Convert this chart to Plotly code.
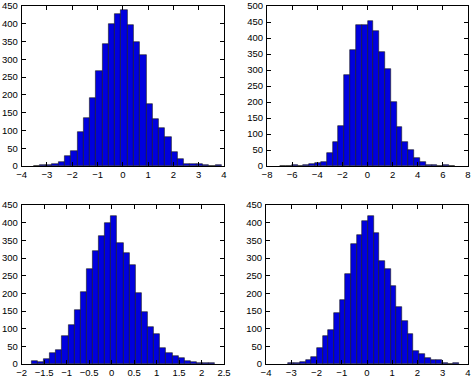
"""Four MATLAB-style histograms (30 bins each) drawn with Plotly."""
import numpy as np
import plotly.graph_objects as go
from plotly.subplots import make_subplots

# Histogram bin ranges (data min / max) and counts
range_1 = (-3.54, 3.90)
counts_1 = [1, 2, 2, 5, 12, 27, 43, 97, 134, 190, 266, 343, 399, 428, 438,
            396, 350, 311, 175, 133, 108, 81, 39, 20, 7, 6, 5, 2, 0, 2]

range_2 = (-6.95, 6.95)
counts_2 = [0, 0, 2, 1, 3, 6, 9, 13, 42, 74, 125, 284, 362, 440, 442,
            452, 423, 357, 302, 199, 121, 76, 50, 24, 13, 3, 2, 1, 2, 0]

range_3 = (-1.78, 2.30)
counts_3 = [8, 5, 13, 31, 40, 79, 110, 152, 203, 268, 320, 362, 398, 418, 342,
            315, 280, 200, 148, 106, 84, 45, 32, 23, 16, 8, 5, 3, 2, 2]

range_4 = (-3.11, 3.64)
counts_4 = [3, 2, 5, 10, 20, 44, 80, 96, 144, 181, 254, 341, 366, 406, 420,
            370, 292, 270, 221, 160, 122, 86, 37, 28, 18, 11, 10, 4, 0, 2]

panels = [
    # (range, counts, x axis range, x tick step, y max)
    (range_1, counts_1, (-4, 4), 1, 450),
    (range_2, counts_2, (-8, 8), 2, 500),
    (range_3, counts_3, (-2, 2.5), 0.5, 450),
    (range_4, counts_4, (-4, 4), 1, 450),
]

BAR_COLOUR = "rgb(0,0,222)"

fig = make_subplots(rows=2, cols=2)

for i, (rng, counts, xr, xstep, ymax) in enumerate(panels):
    row, col = i // 2 + 1, i % 2 + 1
    edges = np.linspace(rng[0], rng[1], len(counts) + 1)
    centres = (edges[:-1] + edges[1:]) / 2
    fig.add_trace(
        go.Bar(
            x=centres,
            y=counts,
            width=edges[1] - edges[0],
            marker={"color": BAR_COLOUR, "line": {"color": "#1a1a1a", "width": 0.6}},
            showlegend=False,
        ),
        row=row, col=col,
    )
    axis_style = dict(
        showline=True, linecolor="black", linewidth=1, mirror="ticks",
        ticks="inside", ticklen=4, tickcolor="black", showgrid=False,
        zeroline=False, tickfont={"size": 9.5, "color": "black"},
        ticklabeloverflow="allow", automargin=False,
    )
    fig.update_xaxes(range=list(xr), dtick=xstep, tick0=0, ticklabelstandoff=0,
                     row=row, col=col, **axis_style)
    fig.update_yaxes(range=[0, ymax], dtick=50, tick0=0, ticklabelstandoff=1,
                     row=row, col=col, **axis_style)

# Place the axes like the MATLAB subplot grid (pixel positions / figure size)
W, H = 474, 378
boxes = [
    (21.7, 224, 6, 166),
    (267, 468, 6, 166),
    (21.7, 224, 205, 364),
    (266, 468, 205, 364),
]
for i, (x0, x1, y0, y1) in enumerate(boxes):
    suffix = "" if i == 0 else str(i + 1)
    fig.layout["xaxis" + suffix].domain = [x0 / W, x1 / W]
    fig.layout["yaxis" + suffix].domain = [1 - y1 / H, 1 - y0 / H]

fig.update_layout(
    width=W,
    height=H,
    margin={"l": 0, "r": 0, "t": 0, "b": 0},
    paper_bgcolor="white",
    plot_bgcolor="white",
    bargap=0,
    font={"family": "Liberation Sans, Arial, Helvetica, sans-serif", "size": 9.5, "color": "black"},
)

# Drop the browser's default body margin so the figure sits at the page corner
fig.write_html(
    "out.html",
    config={"displayModeBar": False},
    post_script="document.body.style.margin = '0';",
)
